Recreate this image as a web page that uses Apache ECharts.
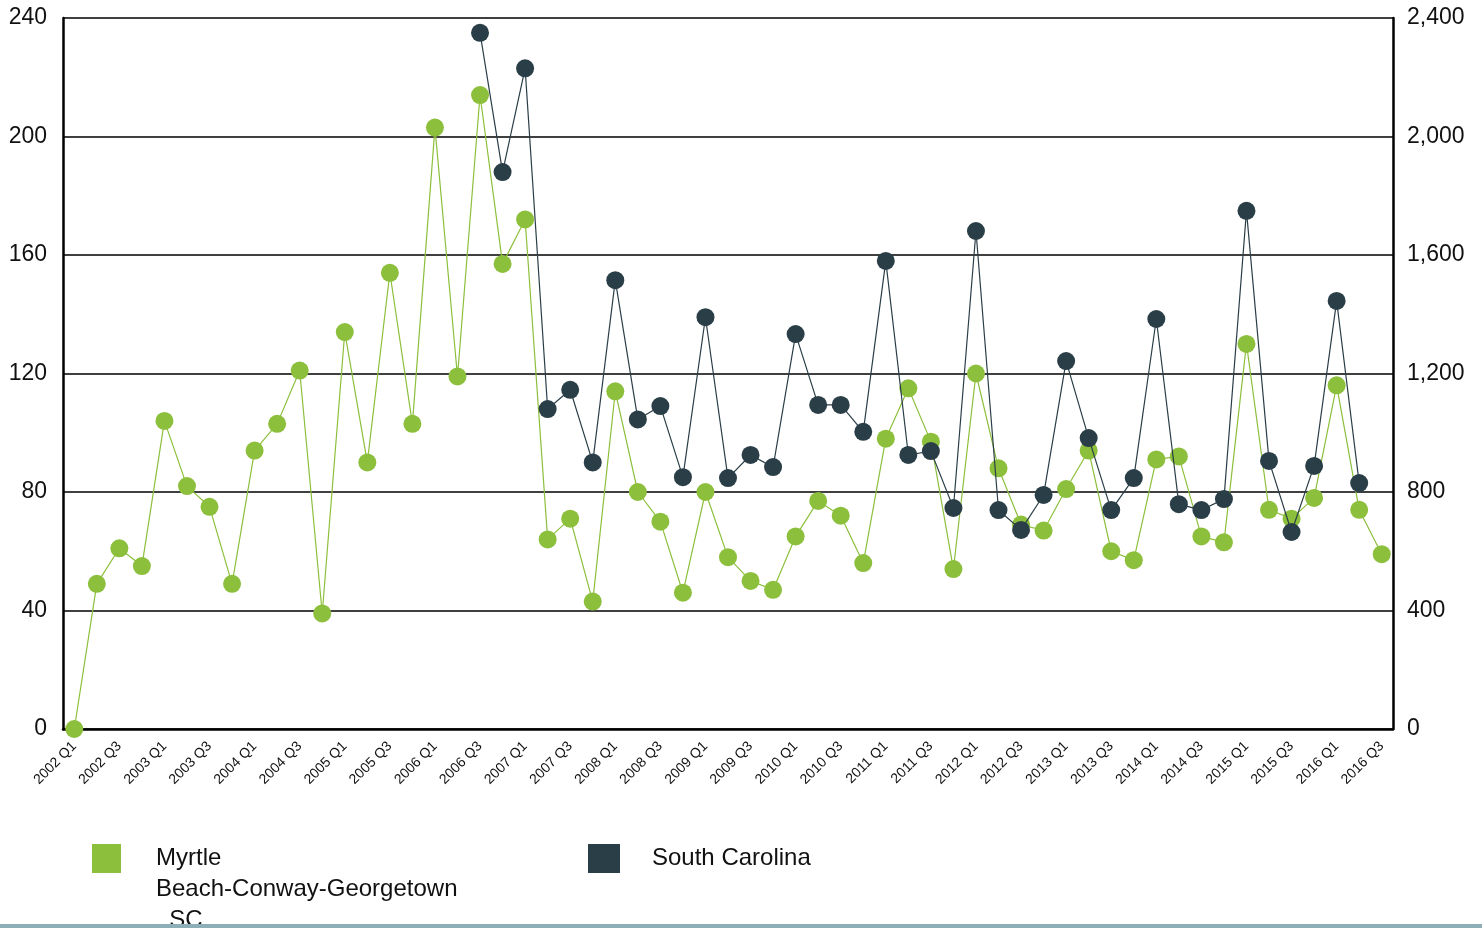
<!DOCTYPE html>
<html>
<head>
<meta charset="utf-8">
<script src="https://cdn.jsdelivr.net/npm/echarts@6/dist/echarts.min.js"></script>
<style>
html,body{margin:0;padding:0;background:#fff;}
#chart{width:1482px;height:928px;}
</style>
</head>
<body>
<div id="chart"></div>
<script>
const years = [2002,2003,2004,2005,2006,2007,2008,2009,2010,2011,2012,2013,2014,2015,2016];
const categories = [];
years.forEach(y => { for (let q = 1; q <= 4; q++) { if (y === 2016 && q > 3) break; categories.push(y + ' Q' + q); } });

const myrtleName = 'Myrtle Beach-Conway-Georgetown, SC';
const scName = 'South Carolina';

const myrtleValues = [0,49,61,55,104,82,75,49,94,103,121,39,134,90,154,103,203,119,214,157,172,64,71,43,114,80,70,46,80,58,50,47,65,77,72,56,98,115,97,54,120,88,69,67,81,94,60,57,91,92,65,63,130,74,71,78,116,74,59];

const scValues = [null,null,null,null,null,null,null,null,null,null,null,null,null,null,null,null,null,null,
  2350,1880,2230,1080,1145,900,1515,1045,1090,850,1390,847,925,884,1333,1094,1094,1003,1580,925,938,746,1681,739,672,790,1242,982,739,847,1384,759,739,776,1749,905,665,888,1445,830,null];

const leftTicks = {min:0, max:240, interval:40};
const rightTicks = {min:0, max:2400, interval:400};

const green = '#8cbf3b';
const dark = '#2a3e47';

const chart = echarts.init(document.getElementById('chart'));
chart.setOption({
  animation:false,
  backgroundColor:'#fff',
  textStyle:{fontFamily:'Liberation Sans, Arial, sans-serif'},
  grid:{left:63, right:89, top:18, bottom:199, containLabel:false},
  legend:[
    {data:[myrtleName], left:92, top:781, padding:0, icon:'rect', itemWidth:29, itemHeight:29,
     formatter:()=>'\n\nMyrtle\nBeach-Conway-Georgetown\n, SC',
     textStyle:{fontSize:24, color:'#111', lineHeight:31, padding:[0,0,0,30]}},
    {data:[scName], left:588, top:844, padding:0, icon:'rect', itemWidth:32, itemHeight:29,
     textStyle:{fontSize:24, color:'#111', padding:[4,0,0,27]}}
  ],
  xAxis:{type:'category', data:categories, boundaryGap:true,
    axisLine:{lineStyle:{color:'#000', width:2.5}},
    axisTick:{show:false},
    axisLabel:{rotate:45, interval:1, fontSize:14, color:'#111', margin:15}},
  yAxis:[
    {type:'value', min:leftTicks.min, max:leftTicks.max, interval:leftTicks.interval, position:'left',
     axisLine:{show:true, lineStyle:{color:'#000', width:2.5}}, axisTick:{show:false},
     axisLabel:{fontSize:23, color:'#111', margin:16},
     splitLine:{lineStyle:{color:'#000', width:1.5}}},
    {type:'value', min:rightTicks.min, max:rightTicks.max, interval:rightTicks.interval, position:'right',
     axisLine:{show:true, lineStyle:{color:'#000', width:2.5}}, axisTick:{show:false},
     axisLabel:{fontSize:23, color:'#111', margin:14, formatter:v=>v.toLocaleString('en-US')},
     splitLine:{show:false}}
  ],
  series:[
    {name:myrtleName, type:'line', yAxisIndex:0, data:myrtleValues, symbol:'circle', symbolSize:18, showAllSymbol:true,
     itemStyle:{color:green}, lineStyle:{color:green, width:1.2}, z:2},
    {name:scName, type:'line', yAxisIndex:1, data:scValues, symbol:'circle', symbolSize:18, showAllSymbol:true, connectNulls:false,
     itemStyle:{color:dark}, lineStyle:{color:dark, width:1.2}, z:3}
  ],
  graphic:[{type:'rect', left:0, top:924, shape:{width:1482, height:4}, style:{fill:'#8fafb8'}, z:100}]
});
</script>
</body>
</html>
